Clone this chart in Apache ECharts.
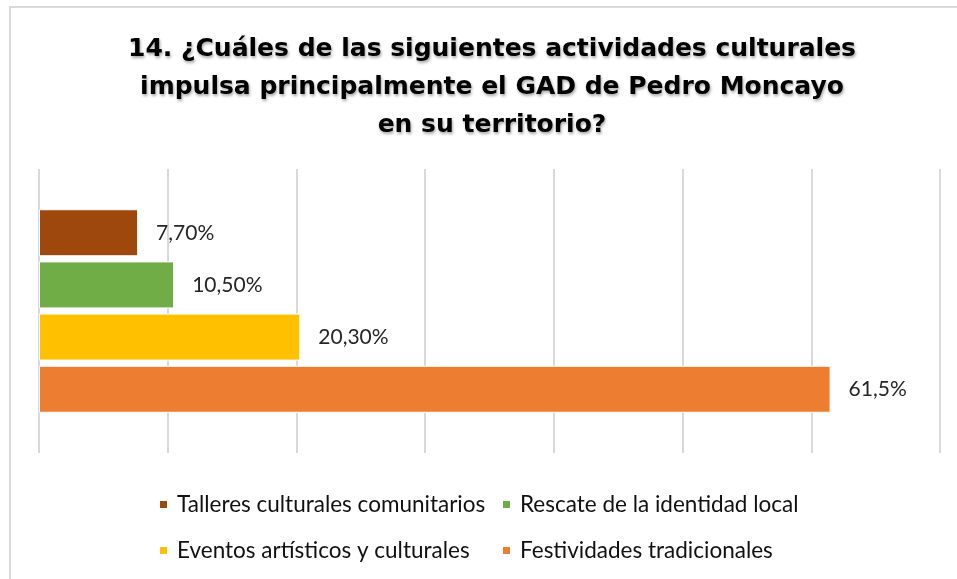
<!DOCTYPE html>
<html>
<head>
<meta charset="utf-8">
<script src="https://cdn.jsdelivr.net/npm/echarts@6/dist/echarts.min.js"></script>
<style>
  html, body { margin: 0; padding: 0; background: #fff; overflow: hidden; }
  #chart { width: 957px; height: 579px; }
</style>
</head>
<body>
<div id="chart"></div>
<script>
const titleText = '14. ¿Cuáles de las siguientes actividades culturales\nimpulsa principalmente el GAD de Pedro Moncayo\nen su territorio?';
const categories = [''];
const seriesNames = ['Talleres culturales comunitarios', 'Rescate de la identidad local', 'Eventos artísticos y culturales', 'Festividades tradicionales'];
const seriesValues = [7.7, 10.5, 20.3, 61.5];
const valueLabels = ['7,70%', '10,50%', '20,30%', '61,5%'];
const seriesColors = ['#9e480e', '#70ad47', '#ffc000', '#ed7d31'];

const chart = echarts.init(document.getElementById('chart'));

const series = seriesNames.map((name, i) => ({
  name: name,
  type: 'bar',
  data: [seriesValues[i]],
  barWidth: 47,
  barGap: '11%',
  itemStyle: { color: seriesColors[i], borderColor: '#fff', borderWidth: 1 },
  label: {
    show: true,
    position: 'right',
    distance: 18,
    formatter: () => valueLabels[i],
    fontFamily: 'Lato',
    fontSize: 21,
    color: '#262626'
  }
}));

const legendText = { fontFamily: 'Lato', fontSize: 22.5, color: '#111', padding: [0, 0, 0, 4] };

const option = {
  animation: false,
  graphic: [
    {
      type: 'rect',
      shape: { x: 10, y: 7, width: 1000, height: 700 },
      style: { fill: 'none', stroke: '#d9d9d9', lineWidth: 2 },
      silent: true
    },
    {
      type: 'text',
      x: 492,
      y: 87,
      silent: true,
      style: {
        text: titleText,
        align: 'center',
        verticalAlign: 'middle',
        fontFamily: 'DejaVu Sans',
        fontWeight: 'bold',
        fontSize: 25,
        lineHeight: 38,
        fill: '#000',
        textShadowColor: 'rgba(0,0,0,0.35)',
        textShadowBlur: 3,
        textShadowOffsetX: 1,
        textShadowOffsetY: 2
      }
    }
  ],
  legend: [
    {
      data: [seriesNames[0], seriesNames[2]],
      orient: 'vertical',
      left: 158,
      top: 493,
      padding: 0,
      itemWidth: 9,
      itemHeight: 9,
      itemGap: 23,
      icon: 'rect',
      textStyle: legendText
    },
    {
      data: [seriesNames[1], seriesNames[3]],
      orient: 'vertical',
      left: 501,
      top: 493,
      padding: 0,
      itemWidth: 9,
      itemHeight: 9,
      itemGap: 23,
      icon: 'rect',
      textStyle: legendText
    }
  ],
  grid: { left: 39, right: 17, top: 169, bottom: 126, containLabel: false },
  xAxis: {
    type: 'value',
    min: 0,
    max: 70,
    interval: 10,
    axisLabel: { show: false },
    axisLine: { show: false },
    axisTick: { show: false },
    splitLine: { show: true, lineStyle: { color: '#d9d9d9', width: 2 } }
  },
  yAxis: {
    type: 'category',
    data: categories,
    inverse: true,
    axisLabel: { show: false },
    axisLine: { show: false },
    axisTick: { show: false }
  },
  series: series
};

chart.setOption(option);
</script>
</body>
</html>
